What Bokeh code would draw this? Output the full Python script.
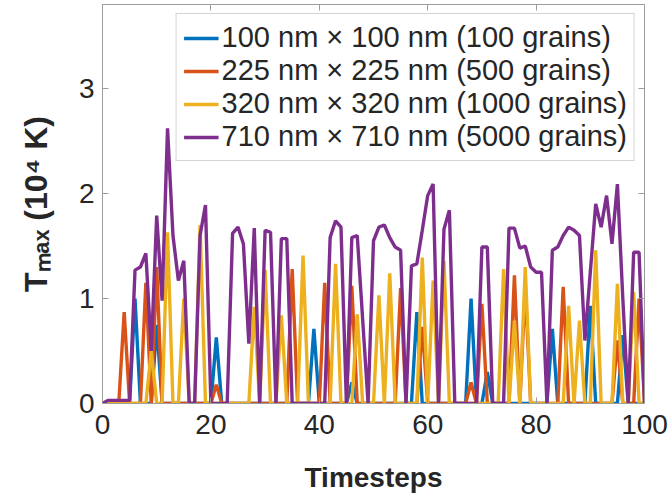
from bokeh.plotting import figure
from bokeh.models import Range1d, LinearAxis, Legend, LegendItem, FixedTicker
from bokeh.embed import file_html
from bokeh.resources import INLINE

timesteps = list(range(101))

t_100_grains = [
    0, 0, 0, 0, 0, 0, 1.00, 0, 0, 0,
    0.75, 0, 0, 0, 0, 0, 0, 0, 0, 0,
    0, 0.63, 0, 0, 0, 0, 0, 0, 0, 0,
    0, 0, 0, 0, 0, 0, 0, 0, 0, 0.71,
    0, 0, 0, 0, 0, 0, 0.20, 0, 0, 0,
    0, 0, 0, 0, 0, 0, 0, 0, 0.87, 0,
    0, 0, 0, 0, 0, 0, 0, 0, 1.00, 0,
    0, 0.30, 0, 0, 0, 0, 0, 0, 0, 0,
    0, 0, 0, 0.71, 0, 0, 0, 0, 0, 0,
    0.93, 0, 0, 0, 0, 0, 0.65, 0, 0, 0,
    0]

t_500_grains = [
    0, 0, 0, 0, 0.87, 0, 0, 0, 1.15, 0,
    1.30, 0, 0, 0, 0, 0, 0, 0, 0, 0,
    0, 0.18, 0, 0, 0, 0, 0, 0, 0, 0,
    0, 0, 0, 0, 0, 1.28, 0, 0, 0, 0,
    0, 1.15, 0, 0, 0, 0, 1.12, 0, 0, 0,
    0, 0, 0, 0, 0, 1.10, 0, 0, 0, 0.73,
    0, 0, 0, 0, 0, 0, 0, 0, 0.20, 0,
    0.95, 0, 0, 0, 0, 0, 1.22, 0, 1.11, 0,
    0, 0, 0, 0, 0, 1.11, 0, 0, 0, 0,
    0, 0, 0, 0, 0, 0.60, 0, 0, 0, 1.00,
    0]

t_1000_grains = [
    0, 0, 0, 0, 0, 0, 0, 0, 0, 0.50,
    0, 0, 1.63, 0, 0, 1.00, 0, 0, 1.70, 0,
    0, 0, 0, 0, 0, 0, 0, 0, 0.92, 0,
    1.27, 0, 0, 0.84, 0, 0, 0, 1.41, 0, 0,
    0, 0, 0, 1.33, 0, 0, 0, 0.85, 0, 0,
    0, 1.03, 0, 1.24, 0, 0, 0, 0, 0, 1.39,
    0, 1.17, 0, 1.36, 0, 0, 0, 0, 0, 0,
    0, 0, 0, 0, 1.28, 0, 0.79, 0, 1.30, 0,
    0, 0, 0, 0, 0, 0, 0.93, 0, 0.79, 0,
    0, 1.46, 0, 0, 0, 1.14, 0, 0, 1.06, 0,
    0]

t_5000_grains = [
    0, 0.03, 0.03, 0.03, 0.03, 0.03, 1.27, 1.30, 1.43, 0.50,
    1.79, 0.98, 2.62, 1.60, 1.17, 1.36, 0, 0, 1.60, 1.89,
    0, 0, 0, 0, 1.62, 1.68, 1.52, 0.57, 1.67, 0,
    1.65, 1.63, 0, 1.57, 1.57, 0, 0, 0, 0, 0,
    0, 0, 1.58, 1.74, 1.68, 0, 1.58, 1.60, 0.80, 0,
    1.55, 1.68, 1.70, 1.58, 1.49, 1.46, 0, 1.31, 1.33, 1.65,
    1.98, 2.09, 0, 1.66, 1.84, 0, 0, 0, 0, 0,
    1.49, 1.49, 0, 0, 0, 1.67, 1.67, 1.48, 1.50, 1.30,
    1.25, 1.25, 0, 1.46, 1.49, 1.60, 1.68, 1.65, 1.60, 0.60,
    1.25, 1.90, 1.68, 1.98, 1.52, 2.09, 1.00, 0, 1.44, 1.44,
    0]

series_labels = [
    "100 nm \u00d7 100 nm (100 grains)",
    "225 nm \u00d7 225 nm (500 grains)",
    "320 nm \u00d7 320 nm (1000 grains)",
    "710 nm \u00d7 710 nm (5000 grains)",
]
series_colors = ["#0072BD", "#D95319", "#EDB120", "#7E2F8E"]
x_ticks = [0, 20, 40, 60, 80, 100]
y_ticks = [0, 1, 2, 3]
x_title = "Timesteps"
y_title = "T\u2098\u2090\u2093 (10\u2074 K)"

FONT = "Liberation Sans"
AX_GRAY = "#9c9c9c"
TXT = "#262626"

# frame geometry (canvas px)
FL, FR, FT, FB = 102, 644, 4, 403

p = figure(width=670, height=496, output_backend="svg", toolbar_location=None,
           x_range=Range1d(0, 100), y_range=Range1d(0, 3.8),
           min_border_left=FL, min_border_right=670 - FR,
           min_border_top=FT, min_border_bottom=496 - FB)
p.xgrid.visible = False
p.ygrid.visible = False
p.outline_line_color = None
p.background_fill_color = "white"
p.border_fill_color = "white"


def style_axis(ax, show_labels=True):
    ax.axis_line_color = AX_GRAY
    ax.axis_line_width = 1
    ax.major_tick_line_color = AX_GRAY
    ax.major_tick_in = 6
    ax.major_tick_out = 0
    ax.minor_tick_line_color = None
    ax.major_label_text_font = FONT
    if show_labels:
        ax.major_label_text_color = TXT
        ax.major_label_text_font_size = "28px"
        ax.major_label_standoff = 9
    else:
        ax.major_label_text_color = None
        ax.major_label_text_font_size = "1px"
        ax.major_label_standoff = 0


p.xaxis.ticker = FixedTicker(ticks=x_ticks)
p.yaxis.ticker = FixedTicker(ticks=y_ticks)
style_axis(p.xaxis[0])
style_axis(p.yaxis[0])
p.xaxis.major_label_standoff = 11
p.yaxis.major_label_standoff = 8

p.xaxis.axis_label = x_title
p.xaxis.axis_label_text_font = FONT
p.xaxis.axis_label_text_font_size = "28px"
p.xaxis.axis_label_text_font_style = "bold"
p.xaxis.axis_label_text_color = TXT
p.xaxis.axis_label_standoff = 25

p.yaxis.axis_label = y_title
p.yaxis.axis_label_text_font = FONT
p.yaxis.axis_label_text_font_size = "32px"
p.yaxis.axis_label_text_font_style = "bold"
p.yaxis.axis_label_text_color = TXT
p.yaxis.axis_label_standoff = 22

top_ax = LinearAxis(ticker=FixedTicker(ticks=x_ticks))
right_ax = LinearAxis(ticker=FixedTicker(ticks=y_ticks))
style_axis(top_ax, False)
style_axis(right_ax, False)
p.add_layout(top_ax, "above")
p.add_layout(right_ax, "right")

renderers = []
for vals, col in zip([t_100_grains, t_500_grains, t_1000_grains, t_5000_grains], series_colors):
    r = p.line(timesteps, vals, line_color=col, line_width=3.4)
    renderers.append(r)

legend = Legend(items=[LegendItem(label=l, renderers=[r]) for l, r in zip(series_labels, renderers)],
                location="top_right")
legend.label_text_font = FONT
legend.label_text_font_size = "29px"
legend.label_text_color = TXT
legend.glyph_width = 35
legend.glyph_height = 28
legend.label_height = 28
legend.label_standoff = 3
legend.spacing = 0
legend.padding = 7
legend.margin = 9
legend.border_line_color = "#a8a8a8"
legend.border_line_width = 1
legend.background_fill_color = "white"
legend.background_fill_alpha = 1
p.add_layout(legend)

open("out.html", "w").write(file_html(p, INLINE))
